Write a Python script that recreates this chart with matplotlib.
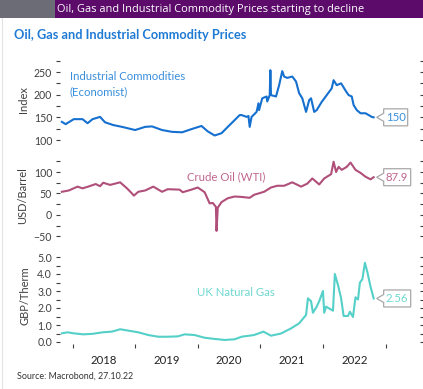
import matplotlib
matplotlib.use("Agg")
import matplotlib.pyplot as plt
from matplotlib.patches import Rectangle, Polygon
from matplotlib.transforms import IdentityTransform
from matplotlib.ticker import FixedLocator, FuncFormatter

# ---------------- data (decimal years) ----------------
ind_x = [2017.83, 2017.89, 2018.02, 2018.16, 2018.24, 2018.32, 2018.44, 2018.52, 2018.65, 2018.79,
         2019.00, 2019.16, 2019.27, 2019.43, 2019.59, 2019.75, 2019.90, 2020.06, 2020.16, 2020.27,
         2020.38, 2020.48, 2020.59, 2020.67, 2020.70, 2020.78, 2020.81, 2020.83, 2020.86, 2020.94,
         2020.97, 2020.98, 2021.03, 2021.10, 2021.11, 2021.15, 2021.16, 2021.17, 2021.25, 2021.30,
         2021.35, 2021.38, 2021.43, 2021.51, 2021.57, 2021.62, 2021.67, 2021.73, 2021.78, 2021.81,
         2021.86, 2021.90, 2021.98, 2022.06, 2022.14, 2022.17, 2022.22, 2022.29, 2022.37, 2022.41,
         2022.46, 2022.49, 2022.54, 2022.60, 2022.68, 2022.73, 2022.78, 2022.81]
ind_y = [140, 135, 146, 146, 137, 146, 151, 139, 133, 129,
         122, 129, 130, 122, 118, 117, 124, 131, 119, 110,
         115, 129, 144, 155, 155, 151, 153, 129, 151, 162,
         181, 166, 192, 196, 185, 199, 254, 199, 196, 221,
         252, 240, 237, 240, 229, 203, 192, 162, 188, 192,
         162, 166, 184, 199, 214, 232, 221, 225, 207, 199,
         196, 177, 166, 159, 159, 155, 151, 150]

oil_x = [2017.83, 2017.94, 2018.08, 2018.16, 2018.25, 2018.37, 2018.44, 2018.49, 2018.60, 2018.76,
         2018.87, 2018.95, 2018.98, 2019.05, 2019.16, 2019.29, 2019.43, 2019.52, 2019.71, 2019.76,
         2019.90, 2020.00, 2020.11, 2020.19, 2020.24, 2020.29, 2020.30, 2020.32, 2020.38, 2020.48,
         2020.59, 2020.70, 2020.83, 2020.90, 2021.06, 2021.17, 2021.27, 2021.38, 2021.51, 2021.65,
         2021.75, 2021.83, 2021.94, 2022.02, 2022.13, 2022.17, 2022.21, 2022.25, 2022.30, 2022.38,
         2022.44, 2022.52, 2022.60, 2022.68, 2022.76, 2022.81]
oil_y = [54, 57, 66, 62, 66, 72, 67, 75, 70, 76,
         62, 50, 45, 54, 57, 66, 54, 60, 59, 53,
         59, 64, 53, 27, 28, 19, -37, 17, 30, 39,
         43, 42, 40, 47, 54, 64, 68, 68, 76, 66,
         73, 85, 71, 85, 95, 124, 100, 112, 105, 112,
         122, 105, 98, 89, 83, 87.9]

gas_x = [2017.83, 2017.92, 2018.02, 2018.17, 2018.32, 2018.48, 2018.63, 2018.76, 2018.89, 2019.05,
         2019.21, 2019.37, 2019.52, 2019.68, 2019.79, 2019.95, 2020.11, 2020.27, 2020.43, 2020.59,
         2020.70, 2020.90, 2021.05, 2021.17, 2021.33, 2021.49, 2021.62, 2021.73, 2021.76, 2021.81,
         2021.84, 2021.90, 2021.94, 2022.00, 2022.02, 2022.05, 2022.16, 2022.19, 2022.24, 2022.29,
         2022.33, 2022.40, 2022.43, 2022.48, 2022.49, 2022.52, 2022.56, 2022.59, 2022.63, 2022.67,
         2022.71, 2022.76, 2022.81]
gas_y = [0.51, 0.57, 0.51, 0.45, 0.48, 0.57, 0.61, 0.75, 0.67, 0.57,
         0.41, 0.31, 0.31, 0.33, 0.45, 0.41, 0.25, 0.18, 0.12, 0.16,
         0.31, 0.41, 0.61, 0.37, 0.50, 0.80, 1.10, 1.59, 2.57, 2.40,
         1.72, 2.08, 2.40, 3.00, 1.72, 2.08, 1.84, 4.00, 3.35, 2.57,
         1.53, 1.53, 1.78, 1.47, 1.78, 2.63, 2.50, 3.49, 3.70, 4.66,
         4.10, 3.25, 2.56]

years = [2018, 2019, 2020, 2021, 2022]
last_labels = ["150", "87.9", "2.56"]

# ---------------- style ----------------
FONT = "Lato"
plt.rcParams["font.family"] = [FONT, "DejaVu Sans"]
TICK_C = "#404040"
BLUE_L, BLUE_T = "#1570d0", "#3a8fdc"
OIL_L, OIL_T = "#b04f7a", "#c0668e"
GAS_L, GAS_T = "#55d0c8", "#6fd8d0"

W, H = 423, 389
fig = plt.figure(figsize=(W / 100, H / 100), dpi=100)
fig.patch.set_facecolor("white")

def px_axes(top, bottom, left=60, right=420):
    return fig.add_axes([left / W, (H - bottom) / H, (right - left) / W, (bottom - top) / H])

ax1 = px_axes(58, 143)
ax2 = px_axes(158, 240)
ax3 = px_axes(252, 344)

XLIM = (2017.80, 2023.55)

for ax in (ax1, ax2, ax3):
    ax.set_xlim(*XLIM)
    ax.set_facecolor("none")
    for s in ax.spines.values():
        s.set_visible(False)
    ax.tick_params(axis="y", which="both", direction="out", length=3.2, width=0.8,
                   color=TICK_C, labelcolor=TICK_C, labelsize=7.6, pad=2.5,
                   left=True, right=True, labelleft=True, labelright=False)
    ax.tick_params(axis="x", which="both", bottom=False, labelbottom=False, top=False)

ax1.plot(ind_x, ind_y, color=BLUE_L, lw=1.5, solid_joinstyle="round")
ax1.set_ylim(93.4, 280.9)
ax1.yaxis.set_major_locator(FixedLocator([100, 150, 200, 250]))
ax1.yaxis.set_minor_locator(FixedLocator([125, 175, 225, 275]))

ax2.plot(oil_x, oil_y, color=OIL_L, lw=1.5, solid_joinstyle="round")
ax2.set_ylim(-58.2, 132.6)
ax2.yaxis.set_major_locator(FixedLocator([-50, 0, 50, 100]))
ax2.yaxis.set_minor_locator(FixedLocator([-25, 25, 75, 125]))

ax3.plot(gas_x, gas_y, color=GAS_L, lw=1.5, solid_joinstyle="round")
ax3.set_ylim(-2 / 17, 90 / 17)
ax3.yaxis.set_major_locator(FixedLocator([0, 1, 2, 3, 4, 5]))
ax3.yaxis.set_minor_locator(FixedLocator([0.5, 1.5, 2.5, 3.5, 4.5]))
ax3.yaxis.set_major_formatter(FuncFormatter(lambda v, p: f"{v:.1f}"))

# x-axis on bottom panel: labels mid-year, minor ticks at year boundaries
ax3.xaxis.set_major_locator(FixedLocator([y + 0.5 for y in years]))
ax3.xaxis.set_major_formatter(FuncFormatter(lambda v, p: str(int(v))))
ax3.xaxis.set_minor_locator(FixedLocator([2018, 2019, 2020, 2021, 2022, 2023]))
ax3.tick_params(axis="x", which="major", bottom=True, labelbottom=True, length=0,
                labelsize=8.2, labelcolor="#222222", pad=8)
ax3.tick_params(axis="x", which="minor", bottom=True, length=3, width=0.8, color=TICK_C)

# axis titles
fig.text(23 / W, 1 - 100 / H, "Index", rotation=90, ha="center", va="center", fontsize=8, color=TICK_C)
fig.text(23 / W, 1 - 196 / H, "USD/Barrel", rotation=90, ha="center", va="center", fontsize=8, color=TICK_C)
fig.text(25 / W, 1 - 296 / H, "GBP/Therm", rotation=90, ha="center", va="center", fontsize=8, color=TICK_C)

# series labels
fig.text(70 / W, 1 - 77 / H, "Industrial Commodities", ha="left", va="center", fontsize=8.2, color=BLUE_T)
fig.text(70 / W, 1 - 92 / H, "(Economist)", ha="left", va="center", fontsize=8.2, color=BLUE_T)
fig.text(187 / W, 1 - 177 / H, "Crude Oil (WTI)", ha="left", va="center", fontsize=8.2, color=OIL_T)
fig.text(197 / W, 1 - 293 / H, "UK Natural Gas", ha="left", va="center", fontsize=8.2, color=GAS_T)

# callouts at the last data point
def callout(ax, x, y, label, color, bw):
    dx, dy = ax.transData.transform((x, y))
    tip = dx + 3
    bh = 17
    x0 = tip + 7
    x1 = x0 + bw
    y0, y1 = dy - bh / 2, dy + bh / 2
    pts = [(x0, y0), (x0, dy - 4), (tip, dy), (x0, dy + 4), (x0, y1), (x1, y1), (x1, y0)]
    fig.add_artist(Polygon(pts, closed=True, transform=IdentityTransform(),
                           facecolor="white", edgecolor="#a8a8a8", lw=0.9))
    fig.text((x0 + x1) / 2, dy, label, transform=IdentityTransform(), ha="center", va="center",
             fontsize=8.2, color=color)

callout(ax1, ind_x[-1], ind_y[-1], last_labels[0], BLUE_T, 24)
callout(ax2, oil_x[-1], oil_y[-1], last_labels[1], OIL_T, 27)
callout(ax3, gas_x[-1], gas_y[-1], last_labels[2], GAS_T, 27)

# header bar
fig.add_artist(Rectangle((0, 1 - 18 / H), 55 / W, 18 / H, transform=fig.transFigure,
                         facecolor="#6b6c76", edgecolor="none"))
fig.add_artist(Rectangle((55 / W, 1 - 18 / H), 1 - 55 / W, 18 / H, transform=fig.transFigure,
                         facecolor="#5c0b6b", edgecolor="none"))
fig.text(57 / W, 1 - 9.5 / H, "Oil, Gas and Industrial Commodity Prices starting to decline",
         ha="left", va="center", fontsize=7.9, color="white", family=["Open Sans", "DejaVu Sans"])

# title
fig.text(14 / W, 1 - 35 / H, "Oil, Gas and Industrial Commodity Prices", ha="left", va="center",
         fontsize=9.2, fontweight="bold", color="#1f7ad4")

# source
fig.text(17 / W, 1 - 376 / H, "Source: Macrobond, 27.10.22", ha="left", va="center",
         fontsize=6.4, color="#333333")

# faint slide guide line at the left edge
fig.add_artist(plt.Line2D([1.5 / W, 1.5 / W], [0, 1 - 18 / H], transform=fig.transFigure,
                          color="#e2e2e2", lw=0.8))

fig.savefig("out.png", dpi=100)
